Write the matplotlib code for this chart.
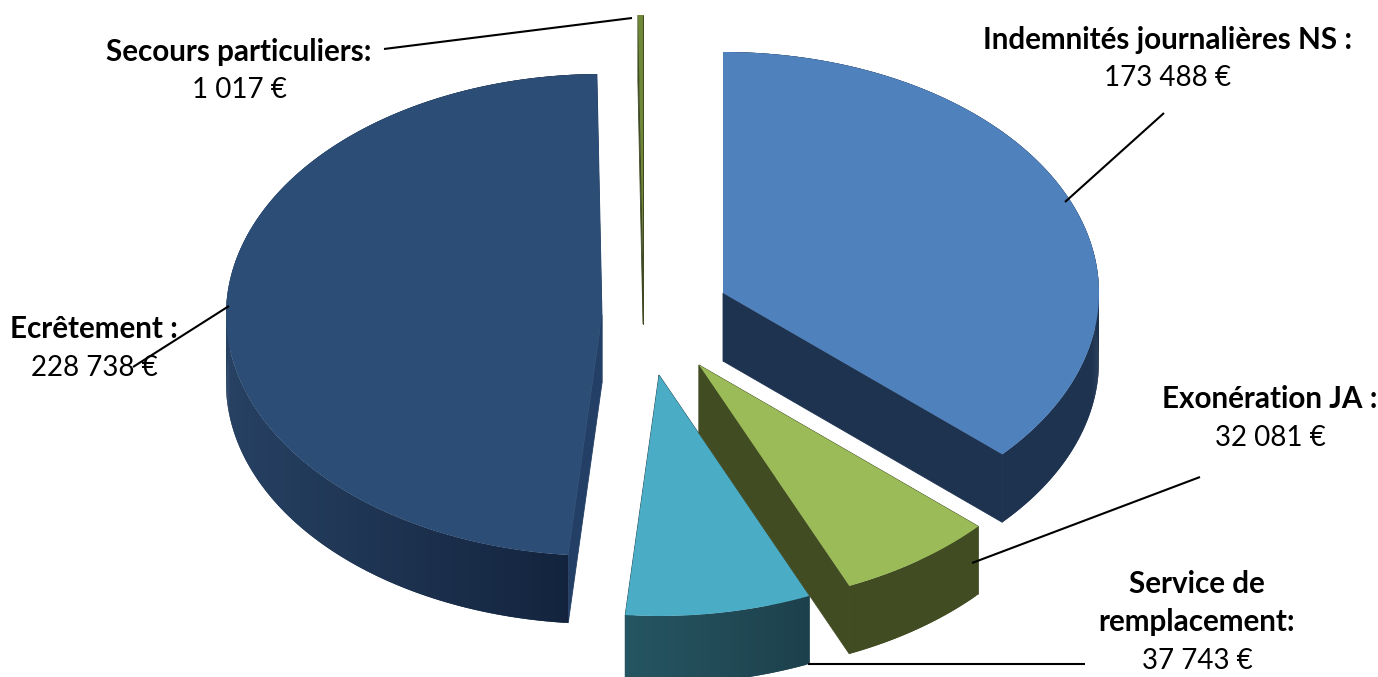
import numpy as np
import matplotlib
matplotlib.use('Agg')
import matplotlib.pyplot as plt
from matplotlib.colors import to_rgb

plt.rcParams['font.family'] = ['Lato', 'DejaVu Sans']

names = ['Indemnités journalières NS :', 'Exonération JA :', 'Service de\nremplacement:',
         'Ecrêtement :', 'Secours particuliers:']
values = [173488, 32081, 37743, 228738, 1017]
value_labels = ['173 488 €', '32 081 €', '37 743 €', '228 738 €', '1 017 €']

# Pie look, in image pixels
RX, RY, DEPTH = 376, 241, 68
centers = [(723, 293), (699, 365), (659, 375), (602, 315), (643, 256)]
top_colors = ['#4f81bd', '#9bbb59', '#4bacc6', '#2c4d75', '#6f8838']
# wall colour at the left and right end of each slice
wall_left = ['#1e3350', '#414c22', '#255562', '#274163', '#3f4a22']
wall_right = ['#1e3350', '#414c22', '#1d414c', '#11213a', '#3f4a22']
cut_colors = ['#1e3350', '#414c22', '#1f4650', '#233f66', '#3f4a22']
draw_order = [4, 0, 3, 2, 1]

# Label centres: one row per line of text
label_x = [1168, 1270, 1197, 94, 239]
label_y = [40, 399, 584, 329, 52]
LINE_H = 38.5
leaders = [((1164, 113), (1065, 202)), ((1200, 477), (972, 563)), ((1085, 664), (808, 664)),
           ((229, 306), (133, 367)), ((384, 49), (632, 18))]


def rim(cx, cy, deg):
    a = np.radians(deg)
    return cx + RX * np.sin(a), cy - RY * np.cos(a)


def draw_slice(ax, i, start, end):
    cx, cy = centers[i]
    angles = np.linspace(start, end, max(int((end - start) * 2), 2) + 1)
    xs, ys = rim(cx, cy, angles)

    # cut faces first, the top hides what is behind it
    for x, y in [(xs[0], ys[0]), (xs[-1], ys[-1])]:
        ax.fill([cx, x, x, cx], [cy, y, y + DEPTH, cy + DEPTH], color=cut_colors[i], lw=0.6)

    # outer wall as narrow strips, each one overlaps the next to hide the seams
    left, right = np.array(to_rgb(wall_left[i])), np.array(to_rgb(wall_right[i]))
    span = max(xs.max() - xs.min(), 1)
    for k in range(len(angles) - 1):
        k2 = min(k + 2, len(angles) - 1)
        c = left + (right - left) * (xs[k] - xs.min()) / span
        ax.fill([xs[k], xs[k2], xs[k2], xs[k]],
                [ys[k], ys[k2], ys[k2] + DEPTH, ys[k] + DEPTH],
                color=c, lw=0)

    ax.fill(np.r_[cx, xs], np.r_[cy, ys], color=top_colors[i], lw=0)


fig = plt.figure(figsize=(13.78, 6.77), dpi=100)
ax = fig.add_axes([0, 0, 1, 1])
ax.set_xlim(0, 1378)
ax.set_ylim(677, 0)
ax.axis('off')

edges = np.r_[0, np.cumsum(values)] / sum(values) * 360
for i in draw_order:
    draw_slice(ax, i, edges[i], edges[i + 1])

for p0, p1 in leaders:
    ax.plot([p0[0], p1[0]], [p0[1], p1[1]], color='black', lw=1.5, solid_capstyle='butt')

for i, name in enumerate(names):
    n_lines = name.count('\n') + 1
    for j, part in enumerate(name.split('\n')):
        ax.text(label_x[i], label_y[i] + j * LINE_H, part, fontsize=21.3, fontweight='bold',
                ha='center', va='center')
    ax.text(label_x[i], label_y[i] + n_lines * LINE_H, value_labels[i], fontsize=20,
            ha='center', va='center')

fig.savefig('out.png', dpi=100)
